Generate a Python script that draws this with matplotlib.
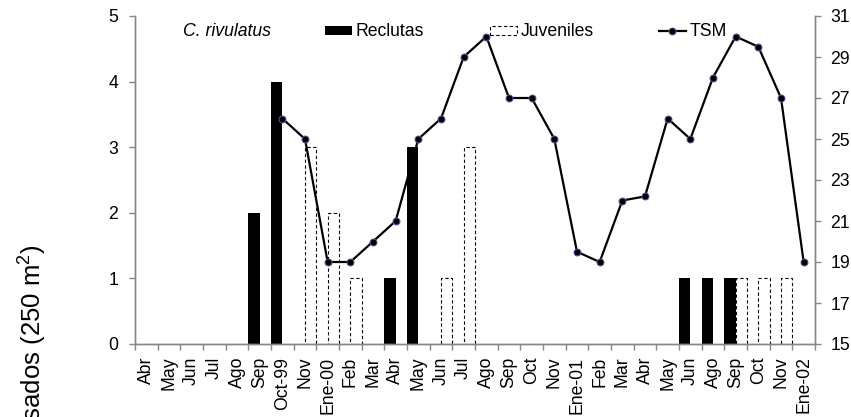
import numpy as np
import matplotlib
matplotlib.use("Agg")
import matplotlib.pyplot as plt

plt.rcParams["font.family"] = ["Liberation Sans", "DejaVu Sans"]
plt.rcParams["mathtext.fontset"] = "custom"
plt.rcParams["mathtext.rm"] = "Liberation Sans"
plt.rcParams["mathtext.it"] = "Liberation Sans:italic"

# Monthly census categories (Apr 1999 - Jan 2002)
months = ["Abr", "May", "Jun", "Jul", "Ago", "Sep", "Oct-99", "Nov", "Ene-00", "Feb",
          "Mar", "Abr", "May", "Jun", "Jul", "Ago", "Sep", "Oct", "Nov", "Ene-01",
          "Feb", "Mar", "Abr", "May", "Jun", "Ago", "Sep", "Oct", "Nov", "Ene-02"]

reclutas = [0, 0, 0, 0, 0, 2, 4, 0, 0, 0,
            0, 1, 3, 0, 0, 0, 0, 0, 0, 0,
            0, 0, 0, 0, 1, 1, 1, 0, 0, 0]

juveniles = [0, 0, 0, 0, 0, 0, 0, 3, 2, 1,
             0, 0, 0, 1, 3, 0, 0, 0, 0, 0,
             0, 0, 0, 0, 0, 0, 1, 1, 1, 0]

# Sea surface temperature (°C)
tsm = [np.nan, np.nan, np.nan, np.nan, np.nan, np.nan, 26, 25, 19, 19,
       20, 21, 25, 26, 29, 30, 27, 27, 25, 19.5,
       19, 22, 22.2, 26, 25, 28, 30, 29.5, 27, 19]

left_ticks = [0, 1, 2, 3, 4, 5]
right_ticks = [15, 17, 19, 21, 23, 25, 27, 29, 31]

W, H = 851, 417
fig = plt.figure(figsize=(W / 100, H / 100), dpi=100)
ax = fig.add_axes([135 / W, 1 - 344 / H, (815 - 135) / W, (344 - 16) / H])
ax2 = ax.twinx()

x = np.arange(len(months))
rec = np.array(reclutas, dtype=float)
juv = np.array(juveniles, dtype=float)
bw = 0.5

mr = rec > 0
ax.bar(x[mr] - bw / 2, rec[mr], width=bw, color="black", edgecolor="black",
       linewidth=0, label="Reclutas")
mj = juv > 0
ax.bar(x[mj] + bw / 2, juv[mj], width=bw, facecolor="white", edgecolor="black",
       linewidth=0.8, linestyle=(0, (3, 2.2)), label="Juveniles")

ax2.plot(x, tsm, color="black", linewidth=1.6, marker="o", markersize=5,
         markerfacecolor="black", markeredgecolor="#6a4fa0", markeredgewidth=0.7,
         label="TSM")

grey = "#868686"
ax.set_xlim(-0.5, len(months) - 0.5)
ax.set_ylim(0, 5)
ax2.set_ylim(15, 31)
ax.set_yticks(left_ticks)
ax2.set_yticks(right_ticks)

ax.set_xticks(x)
ax.set_xticklabels(months, rotation=90, fontsize=12.7)
ax.set_xticks(np.arange(len(months) + 1) - 0.5, minor=True)
ax.tick_params(axis="x", which="major", length=0, pad=9)
ax.tick_params(axis="x", which="minor", length=4.5, color=grey, width=1)
ax.tick_params(axis="y", length=4, color=grey, width=1, labelsize=12.7, pad=8)
ax2.tick_params(axis="y", length=4, color=grey, width=1, labelsize=12.7, pad=7)

for a in (ax, ax2):
    a.spines["top"].set_visible(False)
    for s in ("left", "right", "bottom"):
        a.spines[s].set_color(grey)
        a.spines[s].set_linewidth(1)

ax.text(183 / W, 1 - 32 / H, "C. rivulatus", transform=fig.transFigure,
        fontsize=12.7, style="italic", ha="left", va="center")

h1, l1 = ax.get_legend_handles_labels()
h2, l2 = ax2.get_legend_handles_labels()
leg = ax2.legend(h1 + h2, l1 + l2, ncol=3, frameon=False, fontsize=12.7,
                 loc="center left", bbox_to_anchor=(325 / W, 1 - 32 / H),
                 bbox_transform=fig.transFigure, borderpad=0, borderaxespad=0,
                 handlelength=1.55, handleheight=0.4, handletextpad=0.2,
                 columnspacing=3.7)

fig.text(33 / W, 1 - 244 / H, "Individuos censados (250 m$^2$)", rotation=90,
         fontsize=18.5, ha="center", va="top")

fig.savefig("out.png", dpi=100)
